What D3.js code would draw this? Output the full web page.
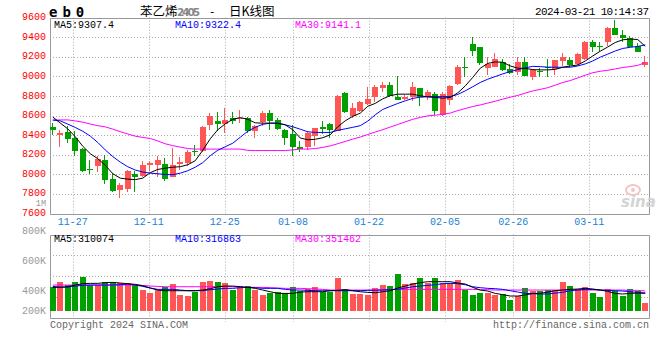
<!DOCTYPE html>
<html><head><meta charset="utf-8">
<script src="https://cdn.jsdelivr.net/npm/d3@7"></script>
<style>body{margin:0;background:#fff}svg{display:block}</style>
</head><body><svg id="c" width="660" height="360"></svg>
<script>
const dates = ["11-22","11-23","11-24","11-27","11-28","11-29","11-30",
"12-01","12-04","12-05","12-06","12-07","12-08","12-11","12-12","12-13","12-14","12-15","12-18","12-19","12-20","12-21","12-22","12-25","12-26","12-27","12-28","12-29",
"01-02","01-03","01-04","01-05","01-08","01-09","01-10","01-11","01-12","01-15","01-16","01-17","01-18","01-19","01-22","01-23","01-24","01-25","01-26","01-29","01-30","01-31",
"02-01","02-02","02-05","02-06","02-07","02-08","02-19","02-20","02-21","02-22","02-23","02-26","02-27","02-28","02-29",
"03-01","03-04","03-05","03-06","03-07","03-08","03-11","03-12","03-13","03-14","03-15","03-18","03-19","03-20","03-21"];
const open = [8483,8401,8435,8371,8254,8054,8081,8149,7956,7840,
 7851,8007,7979,8095,8091,8108,7973,8108,8115,8240,
 8240,8499,8540,8516,8574,8564,8574,8438,8530,8625,
 8550,8455,8411,8279,8279,8394,8483,8516,8445,8830,
 8591,8652,8720,8795,8887,8914,8795,8771,8788,8880,
 8788,8822,8608,8761,8921,9094,9331,9298,9084,9100,
 9151,9077,9050,9151,8999,9057,9100,9077,9162,9168,
 9128,9179,9349,9314,9349,9494,9426,9393,9314,9118];
const high = [8523,8455,8489,8438,8269,8149,8183,8200,8014,7912,
 8048,8031,8139,8139,8183,8166,8269,8176,8244,8295,
 8496,8625,8632,8676,8632,8653,8581,8506,8642,8659,
 8574,8460,8506,8336,8438,8472,8540,8520,8808,8840,
 8727,8754,8897,8914,8948,8948,9009,8812,8948,8885,
 8863,8836,8846,8914,9118,9196,9399,9305,9196,9243,
 9175,9128,9196,9196,9077,9091,9175,9168,9236,9196,
 9236,9365,9372,9348,9508,9576,9474,9416,9338,9212];
const low = [8404,8275,8320,8183,8020,8007,8020,7902,7817,7755,
 7817,7823,7973,8031,7973,7928,7973,8040,8081,8183,
 8230,8455,8438,8421,8513,8523,8421,8371,8489,8455,
 8455,8302,8183,8224,8251,8285,8411,8371,8440,8625,
 8574,8632,8710,8734,8840,8795,8761,8761,8754,8693,
 8761,8608,8600,8710,8914,8999,9212,9118,9016,9095,
 9060,9026,9016,9000,8962,8996,8999,9019,9111,9094,
 9121,9172,9247,9263,9314,9426,9348,9304,9247,9100];
const close = [8448,8421,8360,8234,8030,8040,8157,7945,7827,7892,
 8037,7969,8098,8115,8149,7952,8098,8125,8227,8227,
 8479,8591,8516,8557,8540,8574,8445,8489,8625,8540,
 8465,8371,8275,8258,8421,8472,8465,8455,8805,8632,
 8676,8734,8768,8890,8914,8802,8761,8795,8897,8795,
 8836,8642,8822,8904,9094,9084,9263,9141,9124,9175,
 9067,9033,9151,9006,9070,9043,9094,9165,9196,9121,
 9229,9349,9298,9308,9494,9426,9393,9304,9247,9151];
const ma5 = [8586,8524,8465,8384,8287,8211,8160,8093,8007,7961,
 7951,7946,7961,8017,8050,8063,8073,8078,8098,8139,
 8246,8363,8455,8516,8562,8580,8562,8526,8523,8523,
 8521,8506,8455,8371,8353,8358,8374,8404,8486,8547,
 8593,8625,8695,8725,8771,8804,8819,8819,8819,8802,
 8791,8786,8778,8786,8832,8903,8990,9084,9133,9148,
 9145,9107,9084,9082,9070,9067,9067,9072,9094,9107,
 9117,9158,9209,9258,9301,9347,9374,9382,9377,9307.4];
const ma10 = [8554,8546,8513,8479,8440,8391,8326,8249,8182,8125,
 8078,8044,8024,8012,8006,7998,7997,8012,8037,8073,
 8119,8190,8246,8282,8318,8379,8440,8481,8511,8523,
 8523,8506,8486,8461,8435,8428,8428,8428,8449,8465,
 8480,8497,8544,8608,8663,8694,8724,8751,8776,8788,
 8793,8794,8794,8794,8816,8853,8895,8938,8972,8999,
 9026,9050,9069,9088,9103,9100,9095,9094,9094,9094,
 9107,9128,9158,9197,9228,9260,9286,9298,9306,9322.4];
const ma30 = [8556,8556,8556,8546,8533,8514,8497,8485,8462,8436,
 8412,8390,8377,8366,8341,8312,8293,8278,8263,8258,
 8258,8258,8258,8258,8258,8258,8245,8243,8243,8243,
 8243,8243,8250,8258,8258,8263,8275,8291,8313,8336,
 8360,8381,8407,8432,8456,8483,8509,8536,8562,8582,
 8597,8604,8613,8626,8651,8672,8693,8709,8728,8747,
 8768,8788,8806,8829,8852,8868,8885,8911,8938,8958,
 8985,9013,9038,9053,9063,9077,9091,9101,9113,9141.1];
const volume = [417,518,458,518,601,458,458,518,518,500,
 500,458,369,321,369,417,476,280,268,339,
 518,536,518,500,369,440,440,369,280,321,
 339,310,417,357,381,417,339,339,589,381,
 298,298,280,405,458,440,655,476,500,589,
 488,589,500,500,548,369,280,321,321,280,
 292,191,262,399,357,357,369,369,518,440,
 381,417,310,250,381,357,262,381,357,131].map(v => v * 1000);
const volMa5 = [417,417,428,458,482,488,488,500,506,494,
 482,470,446,405,369,357,357,357,357,357,
 369,393,428,440,440,428,417,399,369,339,
 309,309,309,333,339,339,339,357,363,375,
 357,339,327,321,339,357,405,440,476,500,
 518,518,518,518,494,476,417,369,351,309,
 286,262,262,280,309,309,333,357,369,381,
 387,399,387,369,345,309,298,309,315,310.074].map(v => v * 1000);
const volMa10 = [434,422,422,440,452,458,458,458,458,464,
 476,458,434,405,381,381,381,369,357,357,
 357,375,387,399,399,411,417,411,399,399,
 399,381,369,369,363,357,357,357,357,357,
 357,357,363,363,369,375,381,405,428,440,
 452,464,482,488,482,464,428,411,399,393,
 381,357,333,309,303,298,298,315,327,357,
 369,381,381,369,363,357,351,339,327,316.863].map(v => v * 1000);
const volMa30 = [458,458,458,458,458,458,458,458,458,458,
 458,458,452,440,434,428,428,428,428,428,
 428,428,434,434,428,422,417,417,417,411,
 405,399,399,399,393,387,381,369,369,369,
 369,369,369,375,375,381,381,381,381,381,
 381,381,381,381,381,381,381,375,375,369,
 369,369,369,369,369,369,369,369,369,369,
 369,369,369,369,369,369,369,363,363,351.462].map(v => v * 1000);
const priceTicks = [9600,9400,9200,9000,8800,8600,8400,8200,8000,7800,7600];
const xTickLabels = ["11-27","12-11","12-25","01-08","01-22","02-05","02-26","03-11"];
const volTickLabels = ["800K","600K","400K","200K"];
const priceHeader = ["MA5:9307.4","MA10:9322.4","MA30:9141.1"];
const volHeader = ["MA5:310074","MA10:316863","MA30:351462"];
const maColors = ["#000000","#0000ff","#ff00ff"];

const svg = d3.select("#c");
const L = 50, R = 649.5;
const mainTop = 17.7, mainBot = 213.5, volTop = 234.5, volBot = 317.5;
const RED = "#ff5555", GREEN = "#00a000", GRID = "#aaaaaa", FRAME = "#999999";
const mono = "'Liberation Mono','DejaVu Sans Mono',monospace";

const idx = d3.range(dates.length);
const xBand = d3.scaleBand().domain(idx).range([49, 649]).paddingInner(0.2).paddingOuter(0.1);
const xc = i => xBand(i) + xBand.bandwidth() / 2;
const xGrid = d3.scaleLinear().domain([0, dates.length - 1]).range([50, 650]);
const yP = d3.scaleLinear().domain([7600, 9600]).range([mainBot, mainTop]);
const yV = d3.scaleLinear().domain([0, 1000000]).range([310.7, 254.7]);
const px = v => Math.round(v) + 0.5;

// gridlines
const g = svg.append("g");
g.selectAll("line.hp").data(priceTicks.slice(1, -1)).join("line")
  .attr("x1", L).attr("x2", R).attr("y1", d => px(yP(d))).attr("y2", d => px(yP(d)))
  .attr("stroke", GRID).attr("stroke-dasharray", "1,2");
const tickIdx = xTickLabels.map(t => dates.indexOf(t));
g.selectAll("line.vp").data(tickIdx).join("line")
  .attr("x1", d => px(xGrid(d))).attr("x2", d => px(xGrid(d)))
  .attr("y1", mainTop).attr("y2", mainBot).attr("stroke", GRID).attr("stroke-dasharray", "1,2");
const volGridY = d3.range(1, 4).map(k => volTop + (volBot - volTop) * k / 4);
g.selectAll("line.hv").data(volGridY).join("line")
  .attr("x1", L).attr("x2", R).attr("y1", d => px(d)).attr("y2", d => px(d))
  .attr("stroke", GRID).attr("stroke-dasharray", "1,2");
g.selectAll("line.vv").data(tickIdx).join("line")
  .attr("x1", d => px(xGrid(d))).attr("x2", d => px(xGrid(d)))
  .attr("y1", volTop).attr("y2", 322).attr("stroke", GRID).attr("stroke-dasharray", "1,2");

// frames
const f = svg.append("g").attr("stroke", FRAME).attr("fill", "none");
f.append("path").attr("d", `M${L+0.5},${px(mainTop)}H${R}V${px(mainBot)}H${L+0.5}Z`);
f.append("path").attr("d", `M${L+0.5},${px(volTop)}H${R}V${px(volBot)}H${L+0.5}Z`);

// watermark
const wm = svg.append("g");
wm.append("ellipse").attr("cx", 633).attr("cy", 190).attr("rx", 7).attr("ry", 5)
  .attr("fill", "none").attr("stroke", "#f4c4c4").attr("stroke-width", 2);
wm.append("circle").attr("cx", 633).attr("cy", 190).attr("r", 2).attr("fill", "#f4c4c4");
wm.append("text").attr("x", 621).attr("y", 207).text("sina")
  .attr("font-family", "Verdana, 'DejaVu Sans', sans-serif").attr("font-style", "italic")
  .attr("font-weight", "bold").attr("font-size", 15).attr("fill", "#d4d4d4");

// candles
const cg = svg.append("g").attr("shape-rendering", "crispEdges");
const col = i => close[i] >= open[i] ? RED : GREEN;
cg.selectAll("line.wick").data(idx).join("line")
  .attr("x1", i => Math.round(xBand(i)) + 2.5).attr("x2", i => Math.round(xBand(i)) + 2.5)
  .attr("y1", i => yP(high[i])).attr("y2", i => yP(low[i])).attr("stroke", col);
cg.selectAll("rect.body").data(idx).join("rect")
  .attr("x", i => Math.round(xBand(i))).attr("width", 6)
  .attr("y", i => yP(Math.max(open[i], close[i])))
  .attr("height", i => Math.max(1, yP(Math.min(open[i], close[i])) - yP(Math.max(open[i], close[i]))))
  .attr("fill", col);

// volume bars
cg.selectAll("rect.vol").data(idx).join("rect")
  .attr("x", i => Math.round(xBand(i))).attr("width", 6)
  .attr("y", i => yV(volume[i])).attr("height", i => yV(0) - yV(volume[i]))
  .attr("fill", col);

// MA lines
const lineP = arr => d3.line().x((d, i) => xc(i)).y(d => yP(d))(arr);
const lineV = arr => d3.line().x((d, i) => xc(i)).y(d => yV(d))(arr);
[ma30, ma10, ma5].forEach((a, k) => svg.append("path").attr("d", lineP(a))
  .attr("fill", "none").attr("stroke", maColors[2 - k]).attr("stroke-width", 1));
[volMa30, volMa10, volMa5].forEach((a, k) => svg.append("path").attr("d", lineV(a))
  .attr("fill", "none").attr("stroke", maColors[2 - k]).attr("stroke-width", 1));

// texts
const T = svg.append("g").attr("font-family", mono).attr("font-size", 10);
T.selectAll("text.py").data(priceTicks).join("text")
  .attr("x", 46).attr("y", d => yP(d) - 1).attr("dy", "0.35em").attr("text-anchor", "end")
  .attr("fill", "#ff0000").text(d => d);
T.append("text").attr("x", 46).attr("y", 203.5).attr("dy", "0.35em").attr("text-anchor", "end")
  .attr("font-size", 8.5).attr("fill", "#999").text("1M");
T.selectAll("text.vy").data(volTickLabels).join("text")
  .attr("x", 46).attr("y", (d, i) => Math.min(volTop - 4 + i * 30, volBot - 7.5)).attr("dy", "0.35em")
  .attr("text-anchor", "end").attr("fill", "#999").text(d => d);
T.selectAll("text.xl").data(tickIdx).join("text")
  .attr("x", d => xGrid(d)).attr("y", 221.7).attr("dy", "0.35em").attr("text-anchor", "middle")
  .attr("fill", "#1a7fd4").text((d, i) => xTickLabels[i]);
const hx = [54, 175, 295];
T.selectAll("text.ph").data(priceHeader).join("text")
  .attr("x", (d, i) => hx[i]).attr("y", 24).attr("dy", "0.35em").attr("fill", (d, i) => maColors[i]).text(d => d);
T.selectAll("text.vh").data(volHeader).join("text")
  .attr("x", (d, i) => hx[i]).attr("y", 238.5).attr("dy", "0.35em").attr("fill", (d, i) => maColors[i]).text(d => d);
// footer
const ft = [["Copyright 2024 SINA.COM", 50, "start"], ["http://finance.sina.com.cn", 649, "end"]];
ft.forEach(([s, x, a]) => {
  const t = T.append("text").attr("x", x).attr("y", 324.5).attr("dy", "0.35em").attr("text-anchor", a).attr("fill", "#666").text(s);
  const b = t.node().getBBox();
  T.insert("rect", "text").attr("x", b.x).attr("y", 319).attr("width", b.width).attr("height", 12).attr("fill", "#fff");
});
T.append("text").attr("x", 649).attr("y", 11.5).attr("dy", "0.35em").attr("text-anchor", "end")
  .attr("font-size", 11).attr("textLength", 114).attr("fill", "#000").text("2024-03-21 10:14:37");

// title
svg.append("text").attr("x", 49).attr("y", 17).attr("font-family", "'DejaVu Sans Mono',monospace")
  .attr("font-weight", "bold").attr("font-size", 14).attr("letter-spacing", 5).attr("fill", "#000").text("eb0");
const tt = svg.append("text").attr("y", 16).attr("font-family", "'Noto Sans CJK SC',sans-serif")
  .attr("font-size", 12.5).attr("fill", "#000");
tt.append("tspan").attr("x", 140).text("苯乙烯");
tt.append("tspan").attr("x", 177).attr("fill", "#888").attr("font-weight", "bold")
  .attr("font-family", "'DejaVu Sans',sans-serif").attr("font-size", 10.5).attr("textLength", 23).text("2405");
tt.append("tspan").attr("x", 210).text("-");
tt.append("tspan").attr("x", 229).text("日K线图");
</script></body></html>
